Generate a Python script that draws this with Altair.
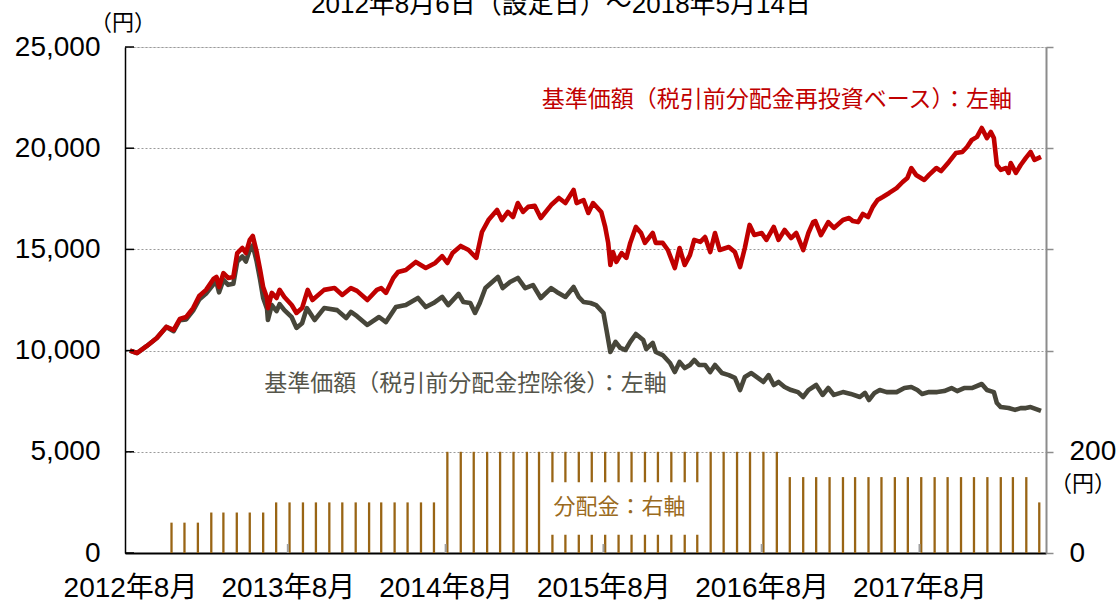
import altair as alt
import pandas as pd

# ---------------- data ----------------
red_dates = [
    "2012-08-06", "2012-08-22", "2012-09-14", "2012-10-07", "2012-10-29", "2012-11-15", "2012-11-29", "2012-12-14", "2012-12-30",
    "2013-01-13", "2013-01-29", "2013-02-15", "2013-02-22", "2013-02-28", "2013-03-10", "2013-03-21", "2013-04-02", "2013-04-11",
    "2013-04-23", "2013-05-01", "2013-05-10", "2013-05-17", "2013-05-26", "2013-06-03", "2013-06-10", "2013-06-19", "2013-06-21",
    "2013-06-30", "2013-07-11", "2013-07-18", "2013-07-29", "2013-08-15", "2013-08-26", "2013-09-08", "2013-09-21", "2013-10-02",
    "2013-10-29", "2013-11-22", "2013-12-10", "2013-12-30",
    "2014-01-13", "2014-02-06", "2014-02-28", "2014-03-10", "2014-03-21", "2014-04-07", "2014-04-18", "2014-05-06", "2014-05-29",
    "2014-06-21", "2014-07-13", "2014-07-29", "2014-08-10", "2014-08-22", "2014-09-10", "2014-09-28", "2014-10-16", "2014-10-29",
    "2014-11-13", "2014-12-03", "2014-12-14", "2014-12-28",
    "2015-01-09", "2015-01-20", "2015-02-01", "2015-02-13", "2015-02-28", "2015-03-14", "2015-04-07", "2015-04-25", "2015-05-10",
    "2015-05-29", "2015-06-05", "2015-06-21", "2015-07-02", "2015-07-13", "2015-08-01", "2015-08-10", "2015-08-17", "2015-08-22",
    "2015-08-28", "2015-09-05", "2015-09-17", "2015-09-28", "2015-10-07", "2015-10-20", "2015-11-01", "2015-11-10", "2015-11-28",
    "2015-12-05", "2015-12-21",
    "2016-01-02", "2016-01-18", "2016-01-29", "2016-02-10", "2016-02-22", "2016-03-03", "2016-03-17", "2016-03-28", "2016-04-09",
    "2016-04-20", "2016-05-01", "2016-05-22", "2016-06-05", "2016-06-17", "2016-06-28", "2016-07-09", "2016-07-20", "2016-08-06",
    "2016-08-17", "2016-09-03", "2016-09-14", "2016-09-28", "2016-10-13", "2016-10-25", "2016-11-10", "2016-11-22", "2016-12-03",
    "2016-12-08", "2016-12-21",
    "2017-01-07", "2017-01-20", "2017-02-10", "2017-02-24", "2017-03-05", "2017-03-17", "2017-03-28", "2017-04-09", "2017-04-20",
    "2017-05-01", "2017-05-13", "2017-05-28", "2017-06-14", "2017-06-28", "2017-07-09", "2017-07-18", "2017-07-29", "2017-08-17",
    "2017-08-28", "2017-09-14", "2017-09-25", "2017-10-13", "2017-10-29", "2017-11-13", "2017-11-24", "2017-12-05", "2017-12-17",
    "2017-12-28",
    "2018-01-09", "2018-01-18", "2018-01-25", "2018-02-01", "2018-02-10", "2018-02-22", "2018-02-28", "2018-03-05", "2018-03-17",
    "2018-03-28", "2018-04-09", "2018-04-20", "2018-04-29", "2018-05-14",
]
red_vals = [
    10000, 9880, 10230, 10620, 11170, 11020, 11560, 11660, 12100,
    12700, 13000, 13540, 13640, 13140, 13830, 13590, 13640, 14820,
    15070, 14820, 15470, 15660, 14870, 13980, 13140, 12600, 12100,
    12850, 12600, 13000, 12650, 12250, 11860, 12100, 13000, 12500,
    13000, 13090, 12750, 13090,
    12950, 12500, 13000, 13090, 12850, 13590, 13880, 13980, 14380,
    14080, 14330, 14670, 14330, 14820, 15170, 14970, 14580, 15860,
    16450, 16950, 16450, 16850,
    16600, 17290, 16850, 17100, 17150, 16550, 17190, 17540, 17290,
    17940, 17290, 17440, 16800, 17290, 16850, 16110, 15320, 14230,
    14870, 14380, 14820, 14580, 15320, 16110, 15810, 15320, 15810,
    15320, 15320,
    14970, 14080, 15070, 14230, 14720, 15470, 15370, 15610, 14870,
    15810, 14970, 15120, 14870, 14130, 15070, 16210, 15710, 15810,
    15470, 16110, 15470, 15960, 15560, 15810, 14970, 15810, 16350,
    16400, 15710,
    16350, 16060, 16450, 16550, 16400, 16350, 16750, 16600, 17100,
    17440, 17590, 17790, 18030, 18330, 18530, 19020, 18680, 18430,
    18680, 19020, 18870, 19320, 19760, 19810, 20060, 20410, 20560,
    21000,
    20500, 20800, 20500, 19170, 18930, 19020, 18780, 19270, 18780,
    19170, 19520, 19810, 19420, 19570,
]

dark_dates = [
    "2012-08-06", "2012-08-22", "2012-09-14", "2012-10-07", "2012-10-29", "2012-11-15", "2012-11-29", "2012-12-14", "2012-12-30",
    "2013-01-13", "2013-01-29", "2013-02-15", "2013-02-22", "2013-02-28", "2013-03-10", "2013-03-21", "2013-04-02", "2013-04-11",
    "2013-04-23", "2013-05-01", "2013-05-10", "2013-05-17", "2013-05-26", "2013-06-03", "2013-06-10", "2013-06-19", "2013-06-21",
    "2013-06-30", "2013-07-11", "2013-07-18", "2013-07-29", "2013-08-15", "2013-08-26", "2013-09-08", "2013-09-19", "2013-10-07",
    "2013-10-29", "2013-11-28", "2013-12-19", "2013-12-30",
    "2014-01-13", "2014-02-06", "2014-03-05", "2014-03-21", "2014-04-13", "2014-05-06", "2014-06-03", "2014-06-21", "2014-07-09",
    "2014-07-29", "2014-08-12", "2014-09-05", "2014-09-16", "2014-10-02", "2014-10-13", "2014-10-24", "2014-11-06", "2014-12-05",
    "2014-12-16",
    "2015-01-02", "2015-01-20", "2015-02-06", "2015-02-24", "2015-03-14", "2015-04-07", "2015-04-20", "2015-05-10", "2015-05-29",
    "2015-06-10", "2015-06-21", "2015-07-07", "2015-07-20", "2015-08-06", "2015-08-13", "2015-08-22", "2015-09-03", "2015-09-14",
    "2015-09-26", "2015-10-07", "2015-10-20", "2015-11-06", "2015-11-13", "2015-11-28", "2015-12-05", "2015-12-21",
    "2016-01-07", "2016-01-18", "2016-01-29", "2016-02-10", "2016-02-22", "2016-03-03", "2016-03-14", "2016-03-28", "2016-04-09",
    "2016-04-20", "2016-05-06", "2016-05-22", "2016-06-05", "2016-06-17", "2016-06-28", "2016-07-13", "2016-07-25", "2016-08-10",
    "2016-08-22", "2016-09-03", "2016-09-14", "2016-09-28", "2016-10-13", "2016-10-29", "2016-11-10", "2016-11-22", "2016-12-03",
    "2016-12-10", "2016-12-25",
    "2017-01-07", "2017-01-20", "2017-02-10", "2017-02-28", "2017-03-21", "2017-04-02", "2017-04-11", "2017-04-24", "2017-05-06",
    "2017-05-22", "2017-06-14", "2017-07-02", "2017-07-18", "2017-08-01", "2017-08-12", "2017-08-28", "2017-09-16", "2017-10-02",
    "2017-10-19", "2017-11-01", "2017-11-17", "2017-12-05", "2017-12-28",
    "2018-01-09", "2018-01-25", "2018-02-01", "2018-02-10", "2018-02-28", "2018-03-15", "2018-03-28", "2018-04-09", "2018-04-20",
    "2018-05-14",
]
dark_vals = [
    10000, 9880, 10230, 10620, 11170, 10960, 11500, 11540, 11980,
    12520, 12820, 13280, 13370, 12880, 13490, 13250, 13300, 14400,
    14650, 14400, 14980, 15200, 14400, 13500, 12600, 12050, 11510,
    12250, 11950, 12300, 12000, 11650, 11120, 11350, 12100, 11510,
    12100, 12000, 11610, 11910,
    11700, 11270, 11660, 11410, 12150, 12250, 12600, 12150, 12350,
    12650, 12250, 12800, 12400, 12350, 11860, 12350, 13090, 13640,
    13090,
    13390, 13590, 13090, 13240, 12600, 13090, 12900, 12650, 13140,
    12650, 12400, 12350, 12250, 11860, 11020, 9930, 10430, 10130,
    10030, 10430, 10820, 10520, 10080, 10380, 9930, 9780,
    9390, 8940, 9440, 9140, 9290, 9540, 9290, 9290, 8940,
    9290, 8890, 8790, 8650, 8050, 8700, 8890, 8700, 8450,
    8790, 8300, 8450, 8200, 8050, 7950, 7710, 8050, 8200,
    8300, 7810,
    8150, 7810, 7950, 7860, 7710, 7910, 7560, 7910, 8050,
    7950, 7950, 8150, 8200, 8050, 7860, 7950, 7950, 8000,
    8150, 8000, 8150, 8150, 8350,
    8050, 7950, 7410, 7210, 7160, 7070, 7160, 7160, 7210,
    7020,
]

# monthly distributions (yen), Nov 2012 .. May 2018
dist_vals = [
    60, 60, 60,
    80, 80, 80, 80, 80,
    100, 100, 100, 100, 100, 100, 100, 100, 100, 100, 100, 100, 100,
    200, 200, 200, 200, 200, 200, 200, 200, 200, 200, 200, 200, 200,
    200, 200, 200, 200, 200, 200, 200, 200, 200, 200, 200, 200, 200,
    150, 150, 150, 150, 150, 150, 150, 150, 150, 150, 150, 150, 150,
    150, 150, 150, 150, 150, 150,
    100,
]
dist_first_month = "2012-11-01"

year_tick_dates = ["2013-08-06", "2014-08-06", "2015-08-06", "2016-08-06", "2017-08-06"]
left_ticks = [0, 5000, 10000, 15000, 20000, 25000]
right_ticks = [0, 200, 400, 600, 800, 1000]

title_text = "2012年8月6日（設定日）～2018年5月14日"
red_label = "基準価額（税引前分配金再投資ベース）：左軸"
dark_label = "基準価額（税引前分配金控除後）：左軸"
dist_label = "分配金：右軸"
unit_label = "（円）"

assert len(red_dates) == len(red_vals)
assert len(dark_dates) == len(dark_vals)

# ---------------- styling ----------------
FONT_NUM = "Liberation Sans, Arial, Noto Sans CJK JP"
FONT_JP = "Noto Sans CJK JP"
RED = "#C00000"
DARK = "#47463A"
DARK_TXT = "#55554A"
BROWN = "#996515"
GRAY = "#8c8c8c"
W, H = 921, 506

red_df = pd.DataFrame({"date": red_dates, "v": red_vals})
dark_df = pd.DataFrame({"date": dark_dates, "v": dark_vals})
dist_dates = pd.date_range(dist_first_month, periods=len(dist_vals), freq="MS") + pd.Timedelta(days=9)
dist_df = pd.DataFrame({"date": [d.strftime("%Y-%m-%d") for d in dist_dates], "d": dist_vals})

x_scale = alt.Scale(domain=[alt.DateTime(year=2012, month=8, date=6, utc=True),
                            alt.DateTime(year=2018, month=5, date=14, utc=True)])
x_axis = alt.Axis(
    values=[alt.DateTime(year=yy, month=8, date=6, utc=True) for yy in range(2012, 2018)],
    format="%Y年%-m月", labelFlush=False, labelOverlap=False, ticks=False, tickSize=0,
    labelPadding=21, labelFontSize=28, labelFont=FONT_NUM, labelColor="#000",
    domainColor="#000", domainWidth=2, grid=False, labelBaseline="top",
)
X = alt.X("date:T", scale=x_scale, axis=x_axis, title=None)

y_left_axis = alt.Axis(
    orient="left", values=left_ticks, format=",d", ticks=False, tickSize=0, labelPadding=25,
    labelFontSize=28, labelFont=FONT_NUM, labelColor="#000", domainColor="#000", domainWidth=1.5,
    grid=True, gridColor="#9a9a9a", gridDash=[2, 2], gridWidth=1, title=None,
)
Y_L = alt.Y("v:Q", scale=alt.Scale(domain=[0, 25000], nice=False), axis=y_left_axis, title=None)

y_right_axis = alt.Axis(
    orient="right", values=right_ticks, format="d",
    labelExpr="datum.value <= 200 ? datum.label : ''",
    tickSize=7, tickColor=GRAY, tickWidth=1.5, domainColor=GRAY, domainWidth=2, grid=False,
    labelPadding=16, labelFontSize=28, labelFont=FONT_NUM, labelColor="#000", title=None,
)
Y_R = alt.Y("d:Q", scale=alt.Scale(domain=[0, 1000], nice=False), axis=y_right_axis, title=None)

# ---------------- right-axis group ----------------
bars = alt.Chart(dist_df).mark_bar(size=2.3, color=BROWN).encode(x=X, y=Y_R)

box_df = pd.DataFrame({"date": ["2015-03-21"], "date2": ["2016-03-24"], "d": [36], "d2": [140]})
box = alt.Chart(box_df).mark_rect(color="white").encode(x=X, x2="date2:T", y=Y_R, y2="d2:Q")

dist_txt_df = pd.DataFrame({"date": ["2015-09-12"], "d": [91], "t": [dist_label]})
dist_txt = alt.Chart(dist_txt_df).mark_text(
    font=FONT_JP, fontSize=22, color="#9A6A20", align="center", baseline="middle"
).encode(x=X, y=Y_R, text="t:N")

right_group = alt.layer(bars, box, dist_txt)

# ---------------- left-axis group ----------------
dark_line = alt.Chart(dark_df).mark_line(color=DARK, strokeWidth=4.6, strokeJoin="round").encode(x=X, y=Y_L)
red_line = alt.Chart(red_df).mark_line(color=RED, strokeWidth=4.6, strokeJoin="round").encode(x=X, y=Y_L)

lt_df = pd.DataFrame({"v": left_ticks})
lticks = alt.Chart(lt_df).mark_rule(color="#000", strokeWidth=1.5).encode(
    y=Y_L, x=alt.value(0), x2=alt.value(9))

xt_df = pd.DataFrame({"date": year_tick_dates})
xticks = alt.Chart(xt_df).mark_rule(color="#a0a0a0", strokeWidth=2).encode(
    x=X, y=alt.value(H - 9), y2=alt.value(H))

lab_df = pd.DataFrame({
    "date": ["2016-09-10", "2014-09-21"],
    "v": [22380, 8350],
    "t": [red_label, dark_label],
    "c": ["red", "dark"],
})
labels = alt.Chart(lab_df).mark_text(font=FONT_JP, fontSize=23, align="center", baseline="middle").encode(
    x=X, y=Y_L, text="t:N",
    color=alt.Color("c:N", scale=alt.Scale(domain=["red", "dark"], range=[RED, DARK_TXT]), legend=None),
)

title_df = pd.DataFrame({"t": [title_text]})
title_mark = alt.Chart(title_df).mark_text(
    font=FONT_NUM, fontSize=26, color="#000", align="center", baseline="alphabetic"
).encode(x=alt.value(436), y=alt.value(-34), text="t:N")

unit_df = pd.DataFrame({"t": [unit_label]})
unit_left = alt.Chart(unit_df).mark_text(
    font=FONT_JP, fontSize=22, color="#000", align="center", baseline="middle"
).encode(x=alt.value(-2), y=alt.value(-24), text="t:N")
unit_right = alt.Chart(unit_df).mark_text(
    font=FONT_JP, fontSize=22, color="#000", align="center", baseline="middle"
).encode(x=alt.value(W + 37), y=alt.value(437), text="t:N")

left_group = alt.layer(dark_line, red_line, lticks, xticks, labels, title_mark, unit_left, unit_right)

chart = alt.layer(right_group, left_group).resolve_scale(y="independent", color="independent").properties(
    width=W, height=H,
    autosize=alt.AutoSizeParams(type="none"),
    padding={"left": 125, "top": 47, "right": 71, "bottom": 50},
).configure_view(stroke=GRAY, strokeWidth=1.5).configure(background="white")

chart.save("out.html", embed_options={"renderer": "svg", "actions": False})
